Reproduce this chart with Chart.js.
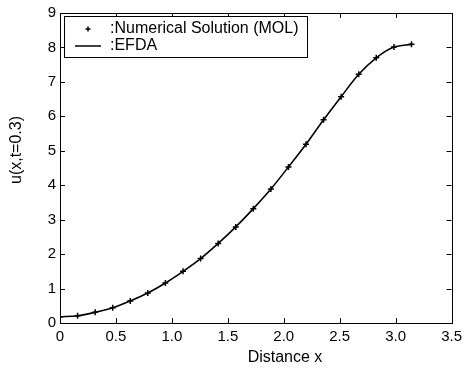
<!DOCTYPE html>
<html>
<head>
<meta charset="utf-8">
<script src="https://cdn.jsdelivr.net/npm/chart.js@4.4.1/dist/chart.umd.min.js"></script>
<style>
  html, body { margin: 0; padding: 0; background: #fff; }
  #wrap { width: 467px; height: 369px; }
</style>
</head>
<body>
<div id="wrap"><canvas id="chart" width="467" height="369"></canvas></div>
<script>
// x positions (0 .. pi in 20 steps) and u(x, t=0.3)
const xValues = [0, 0.157, 0.314, 0.471, 0.628, 0.785, 0.942, 1.100, 1.257, 1.414,
  1.571, 1.728, 1.885, 2.042, 2.199, 2.356, 2.513, 2.670, 2.827, 2.985, 3.142];
const molValues = [0.18, 0.21, 0.31, 0.44, 0.64, 0.87, 1.16, 1.50, 1.87, 2.31,
  2.79, 3.32, 3.89, 4.53, 5.19, 5.90, 6.57, 7.22, 7.70, 8.01, 8.09];
const efdaValues = [0.18, 0.21, 0.31, 0.44, 0.64, 0.87, 1.16, 1.50, 1.87, 2.31,
  2.79, 3.32, 3.89, 4.53, 5.19, 5.90, 6.57, 7.22, 7.70, 8.01, 8.09];
const xTicks = [0, 0.5, 1, 1.5, 2, 2.5, 3, 3.5];
const yTicks = [0, 1, 2, 3, 4, 5, 6, 7, 8, 9];
const xTitle = 'Distance x';
const yTitle = 'u(x,t=0.3)';

const FONT = 'Liberation Sans, Arial, Helvetica, sans-serif';

// MATLAB style box with inward ticks on all four sides, axis titles, legend
const matlabBox = {
  id: 'matlabBox',
  afterDraw(chart) {
    const c = chart.ctx;
    const a = chart.chartArea;
    const xs = chart.scales.x, ys = chart.scales.y;
    c.save();
    c.strokeStyle = '#000';
    c.lineWidth = 1;
    c.strokeRect(Math.round(a.left) + 0.5, Math.round(a.top) + 0.5,
      Math.round(a.right - a.left), Math.round(a.bottom - a.top));
    const t = 5;
    c.beginPath();
    xTicks.forEach(v => {
      const px = Math.round(xs.getPixelForValue(v)) + 0.5;
      c.moveTo(px, a.bottom); c.lineTo(px, a.bottom - t);
      c.moveTo(px, a.top); c.lineTo(px, a.top + t);
    });
    yTicks.forEach(v => {
      const py = Math.round(ys.getPixelForValue(v)) + 0.5;
      c.moveTo(a.left, py); c.lineTo(a.left + t, py);
      c.moveTo(a.right, py); c.lineTo(a.right - t, py);
    });
    c.stroke();

    // axis titles
    c.fillStyle = '#000';
    c.font = '16px ' + FONT;
    c.textAlign = 'center';
    c.textBaseline = 'middle';
    c.fillText(xTitle, 285, 358);
    c.save();
    c.translate(17, 150);
    c.rotate(-Math.PI / 2);
    c.fillText(yTitle, 0, 0);
    c.restore();

    // legend
    const lx = 64, ly = 16, lw = 243, lh = 41;
    c.fillStyle = '#fff';
    c.fillRect(lx, ly, lw, lh);
    c.strokeRect(lx + 0.5, ly + 0.5, lw, lh);
    c.fillStyle = '#000';
    c.textAlign = 'left';
    const labels = chart.data.datasets.map(d => d.label);
    const r1 = ly + 13, r2 = ly + 30;
    c.beginPath();
    c.moveTo(88 - 2.5, r1); c.lineTo(88 + 2.5, r1);
    c.moveTo(88, r1 - 2.5); c.lineTo(88, r1 + 2.5);
    c.lineWidth = 1.5;
    c.stroke();
    c.fillText(labels[0], 110, r1);
    c.beginPath();
    c.moveTo(75, r2); c.lineTo(101, r2);
    c.lineWidth = 1.5;
    c.stroke();
    c.fillText(labels[1], 110, r2);
    c.restore();
  }
};

const molPoints = xValues.map((x, i) => ({ x: x, y: molValues[i] }));
const efdaPoints = xValues.map((x, i) => ({ x: x, y: efdaValues[i] }));

new Chart(document.getElementById('chart'), {
  type: 'scatter',
  data: {
    datasets: [
      {
        label: ':Numerical Solution (MOL)',
        data: molPoints,
        showLine: false,
        pointStyle: 'cross',
        pointRadius: 3,
        borderColor: '#000',
        borderWidth: 1.5,
        backgroundColor: '#000'
      },
      {
        label: ':EFDA',
        data: efdaPoints,
        showLine: true,
        borderColor: '#000',
        borderWidth: 1.6,
        pointRadius: 0,
        tension: 0.3
      }
    ]
  },
  options: {
    responsive: false,
    animation: false,
    layout: { padding: { top: 12, right: 11, left: 0, bottom: 0 } },
    plugins: { legend: { display: false }, tooltip: { enabled: false } },
    scales: {
      x: {
        type: 'linear',
        min: 0, max: 3.5,
        afterBuildTicks: s => { s.ticks = xTicks.map(v => ({ value: v })); },
        afterFit: s => { s.height = 46; },
        grid: { display: false, drawTicks: false },
        border: { display: false },
        ticks: { color: '#000', font: { family: FONT, size: 15 }, padding: 5, maxRotation: 0 }
      },
      y: {
        type: 'linear',
        min: 0, max: 9,
        afterBuildTicks: s => { s.ticks = yTicks.map(v => ({ value: v })); },
        afterFit: s => { s.width = 60; },
        grid: { display: false, drawTicks: false },
        border: { display: false },
        ticks: { color: '#000', font: { family: FONT, size: 15 }, padding: 4 }
      }
    }
  },
  plugins: [matlabBox]
});
</script>
</body>
</html>
